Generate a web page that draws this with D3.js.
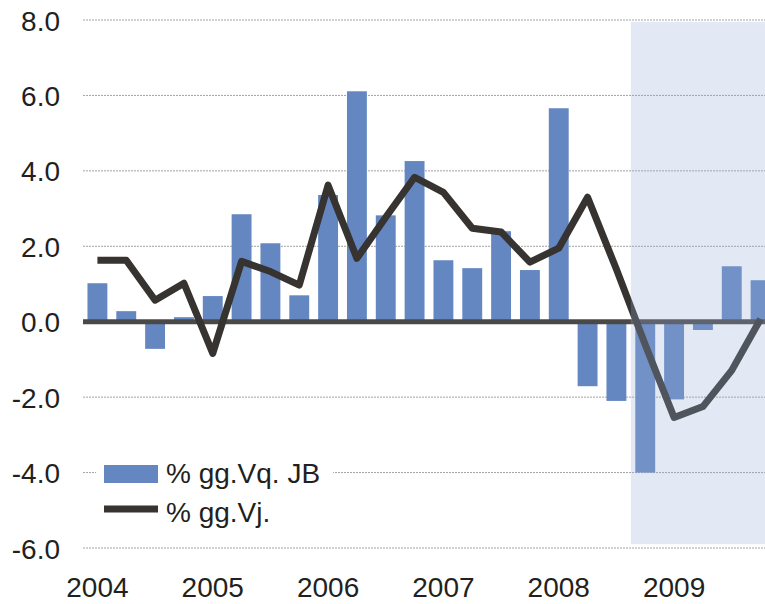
<!DOCTYPE html>
<html>
<head>
<meta charset="utf-8">
<script src="https://cdn.jsdelivr.net/npm/d3@7"></script>
<style>
  body { margin: 0; background: #fff; }
  svg { display: block; }
  text { font-family: 'Liberation Sans', Arial, sans-serif; fill: #231f20; }
</style>
</head>
<body>
<div id="chart"></div>
<script>
var quarters = [
  '2004Q1', '2004Q2', '2004Q3', '2004Q4',
  '2005Q1', '2005Q2', '2005Q3', '2005Q4',
  '2006Q1', '2006Q2', '2006Q3', '2006Q4',
  '2007Q1', '2007Q2', '2007Q3', '2007Q4',
  '2008Q1', '2008Q2', '2008Q3', '2008Q4',
  '2009Q1', '2009Q2', '2009Q3', '2009Q4'
];
var barValues = [
  1.02, 0.28, -0.72, 0.12,
  0.68, 2.85, 2.08, 0.70,
  3.36, 6.11, 2.82, 4.26,
  1.63, 1.42, 2.40, 1.37,
  5.66, -1.71, -2.10, -4.00,
  -2.06, -0.22, 1.47, 1.10
];
var lineValues = [
  1.63, 1.63, 0.57, 1.02,
  -0.84, 1.60, 1.33, 0.97,
  3.62, 1.68, 2.77, 3.83,
  3.43, 2.48, 2.38, 1.58,
  1.95, 3.30, 1.39, -0.61,
  -2.54, -2.25, -1.29, 0.07
];
var yTicks = [-6, -4, -2, 0, 2, 4, 6, 8];
var yearTicks = ['2004Q1', '2005Q1', '2006Q1', '2007Q1', '2008Q1', '2009Q1'];
var shadeFrom = '2008Q4';
var seriesNames = ['% gg.Vq. JB', '% gg.Vj.'];

var width = 765;
var height = 604;
var margin = { top: 20, right: -10, bottom: 56, left: 83 };
var graphWidth = width - margin.left - margin.right;
var graphHeight = height - margin.top - margin.bottom;

var barColor = '#6487c2';
var lineColor = '#363330';

var svg = d3
  .select('#chart')
  .append('svg')
  .attr('width', width)
  .attr('height', height);

var graph = svg
  .append('g')
  .attr('transform', 'translate(' + margin.left + ',' + margin.top + ')');

var x = d3
  .scaleBand()
  .domain(quarters)
  .range([0, graphWidth])
  .paddingInner(0.31)
  .paddingOuter(0.155);

var y = d3.scaleLinear().domain([-6, 8]).range([graphHeight, 0]);

// gridlines
graph
  .append('g')
  .selectAll('line')
  .data(yTicks.filter(d => d !== 0))
  .enter()
  .append('line')
  .attr('x1', 0)
  .attr('x2', graphWidth)
  .attr('y1', d => y(d))
  .attr('y2', d => y(d))
  .attr('stroke', '#a3a3a3')
  .attr('stroke-width', 1)
  .attr('stroke-dasharray', '2,1');

// y axis labels (plain hyphen for negatives, like the original)
var yAxis = d3
  .axisLeft(y)
  .tickValues(yTicks)
  .tickSize(0)
  .tickPadding(23)
  .tickFormat(d => d.toFixed(1));
var yAxisGroup = graph.append('g').call(yAxis);
yAxisGroup.select('.domain').remove();
yAxisGroup
  .selectAll('text')
  .attr('font-size', 28)
  .attr('font-family', null)
  .attr('dy', '0.36em');

// x axis labels
var xAxis = d3
  .axisBottom(x)
  .tickValues(yearTicks)
  .tickSize(0)
  .tickPadding(0)
  .tickFormat(d => d.slice(0, 4));
var xAxisGroup = graph
  .append('g')
  .attr('transform', 'translate(0,' + graphHeight + ')')
  .call(xAxis);
xAxisGroup.select('.domain').remove();
xAxisGroup
  .selectAll('text')
  .attr('font-size', 28)
  .attr('font-family', null)
  .attr('dy', null)
  .attr('y', 49);

// bars
graph
  .append('g')
  .selectAll('rect')
  .data(barValues)
  .enter()
  .append('rect')
  .attr('x', (d, i) => x(quarters[i]))
  .attr('y', d => y(Math.max(0, d)))
  .attr('width', x.bandwidth())
  .attr('height', d => Math.abs(y(d) - y(0)))
  .attr('fill', barColor);

// zero line
graph
  .append('line')
  .attr('x1', 0)
  .attr('x2', graphWidth)
  .attr('y1', y(0))
  .attr('y2', y(0))
  .attr('stroke', '#4b4848')
  .attr('stroke-width', 5);

// line series
var line = d3
  .line()
  .x((d, i) => x(quarters[i]) + x.bandwidth() / 2)
  .y(d => y(d));

graph
  .append('path')
  .datum(lineValues)
  .attr('d', line)
  .attr('fill', 'none')
  .attr('stroke', lineColor)
  .attr('stroke-width', 7)
  .attr('stroke-linejoin', 'round');

// shaded period (overlay)
var shadeX = x(shadeFrom) - (x.step() * x.paddingInner()) / 2;
graph
  .append('rect')
  .attr('x', shadeX)
  .attr('y', y(7.95))
  .attr('width', graphWidth - shadeX)
  .attr('height', y(-5.9) - y(7.95))
  .attr('fill', 'rgb(152,174,215)')
  .attr('opacity', 0.27);

// legend
var legend = svg.append('g').attr('transform', 'translate(96,455)');
legend
  .append('rect')
  .attr('x', 0)
  .attr('y', 0)
  .attr('width', 237)
  .attr('height', 74)
  .attr('fill', '#fff');
legend
  .append('rect')
  .attr('x', 8)
  .attr('y', 10)
  .attr('width', 54)
  .attr('height', 18)
  .attr('fill', barColor);
legend
  .append('line')
  .attr('x1', 8)
  .attr('x2', 62)
  .attr('y1', 54)
  .attr('y2', 54)
  .attr('stroke', lineColor)
  .attr('stroke-width', 7);
legend
  .selectAll('text')
  .data(seriesNames)
  .enter()
  .append('text')
  .attr('x', 70)
  .attr('y', (d, i) => 28 + i * 39)
  .attr('font-size', 28)
  .text(d => d);
</script>
</body>
</html>
